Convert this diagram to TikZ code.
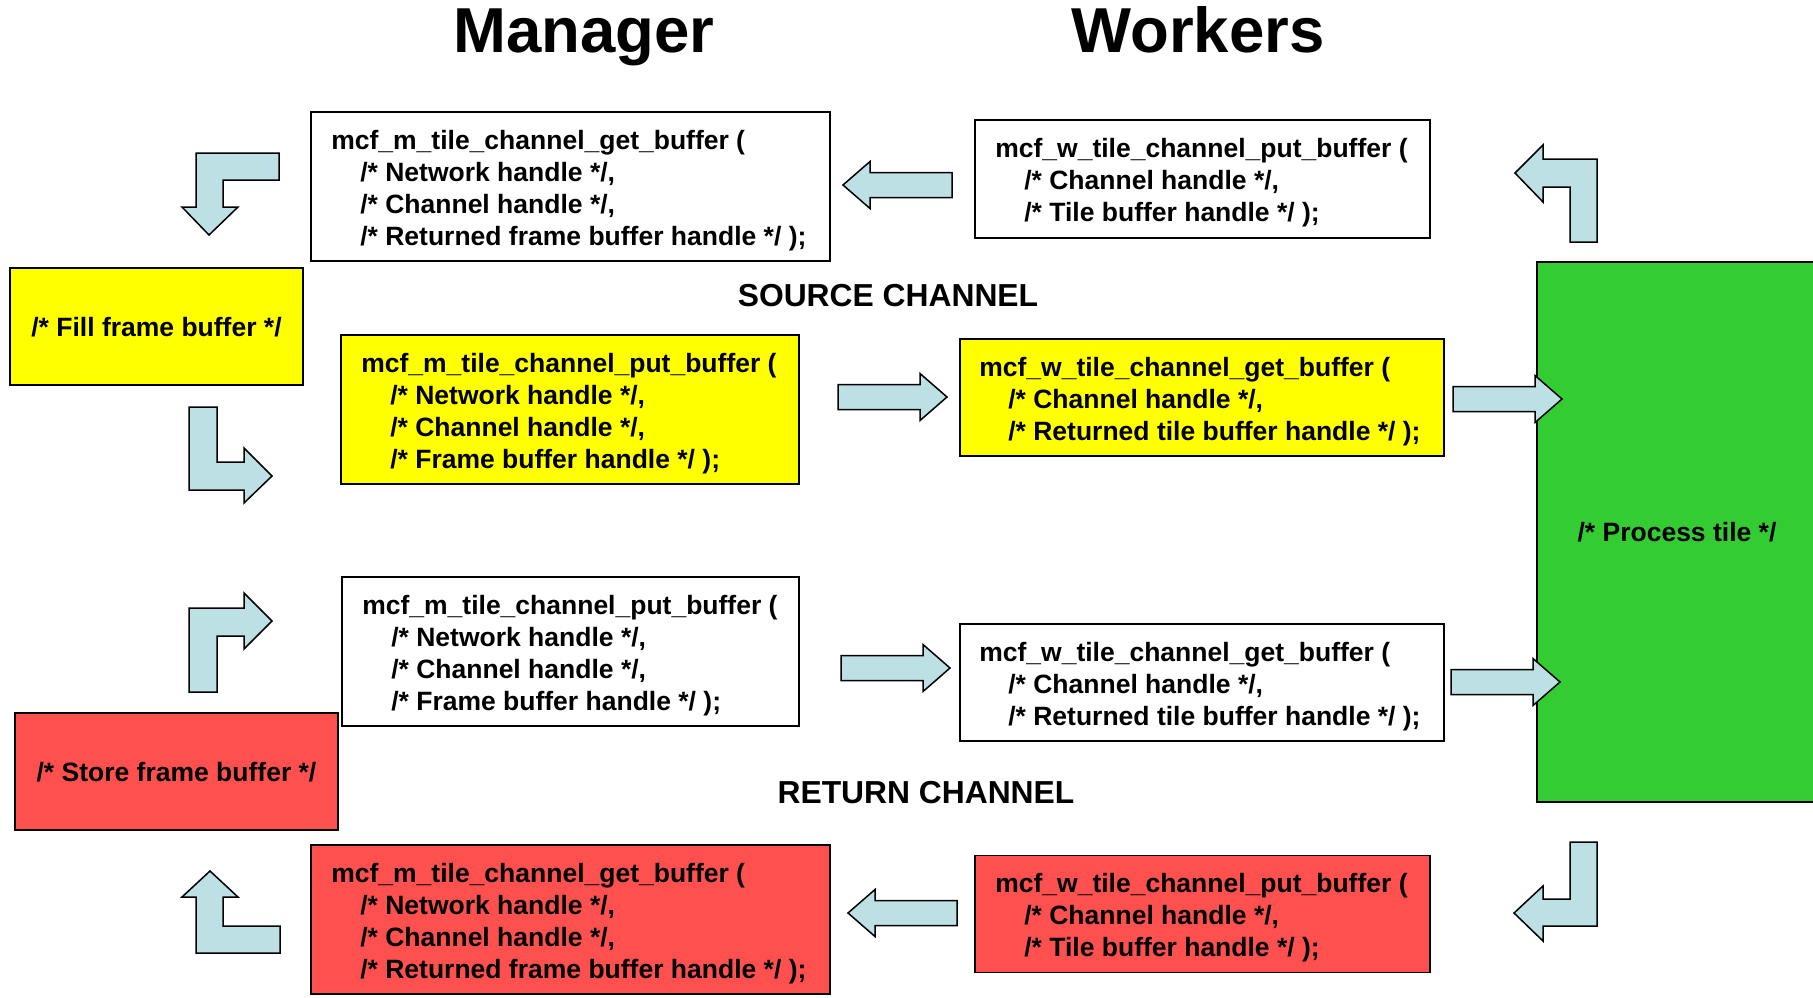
\documentclass[tikz,border=0pt]{standalone}
\usepackage{fontspec}
\setmainfont{Liberation Sans}
\definecolor{arrowfill}{RGB}{188,224,228}
\definecolor{srcyellow}{RGB}{255,255,0}
\definecolor{retred}{RGB}{255,80,80}
\definecolor{procgreen}{RGB}{51,204,51}
\newcommand{\codeindent}{\hspace*{29pt}}
\tikzset{
  framebox/.style={draw=black, line width=1.8pt, rectangle, inner sep=0pt},
  codetext/.style={anchor=west, inner sep=0pt, align=left,
    font=\fontsize{26.5}{32}\selectfont\bfseries},
  plainbox/.style={framebox, align=center, text depth=0pt,
    font=\fontsize{26.5}{32}\selectfont\bfseries},
  blockarrow/.style={draw=black, line width=1.5pt, fill=arrowfill, line join=miter},
  heading/.style={font=\fontsize{63.5}{72}\selectfont\bfseries, anchor=base},
  chanlabel/.style={font=\fontsize{31.8}{36}\selectfont\bfseries, anchor=base},
  flatarrow/.pic={
    \draw[blockarrow] (0,-12.5) -- (82,-12.5) -- (82,-23.5) -- (109,0) -- (82,23.5)
      -- (82,12.5) -- (0,12.5) -- cycle;
  }
}
\begin{document}
\begin{tikzpicture}[x=1pt, y=-1pt]
\useasboundingbox[fill=white] (0,0) rectangle (1813,997);

% column headings
\node[heading] (hmgr) at (584,52) {Manager};
\node[heading] (hwrk) at (1198,52) {Workers};

% channel labels
\node[chanlabel] (lsrc) at (888,306) {SOURCE CHANNEL};
\node[chanlabel] (lret) at (926,803) {RETURN CHANNEL};

% process tile (runs off the right edge)
\node[plainbox, fill=procgreen, minimum width=280, minimum height=540] (proc) at (1677,532) {/* Process tile */};

% manager-side action boxes
\node[plainbox, fill=srcyellow, minimum width=293, minimum height=117] (fill) at (156.5,326.5) {/* Fill frame buffer */};
\node[plainbox, fill=retred, minimum width=323, minimum height=117] (store) at (176.5,771.5) {/* Store frame buffer */};

% manager calls
\node[framebox, fill=white, minimum width=519, minimum height=149] (mgettop) at (570.5,186.5) {};
\node[codetext] (mgettop-t) at ([xshift=21pt,yshift=-4pt]mgettop.west)
  {mcf\_m\_tile\_channel\_get\_buffer (\\\codeindent/* Network handle */,\\\codeindent/* Channel handle */,\\\codeindent/* Returned frame buffer handle */ );};
\node[framebox, fill=srcyellow, minimum width=458, minimum height=149] (mputsrc) at (570,409.5) {};
\node[codetext] (mputsrc-t) at ([xshift=21pt,yshift=-4pt]mputsrc.west)
  {mcf\_m\_tile\_channel\_put\_buffer (\\\codeindent/* Network handle */,\\\codeindent/* Channel handle */,\\\codeindent/* Frame buffer handle */ );};
\node[framebox, fill=white, minimum width=457, minimum height=149] (mputret) at (570.5,651.5) {};
\node[codetext] (mputret-t) at ([xshift=21pt,yshift=-4pt]mputret.west)
  {mcf\_m\_tile\_channel\_put\_buffer (\\\codeindent/* Network handle */,\\\codeindent/* Channel handle */,\\\codeindent/* Frame buffer handle */ );};
\node[framebox, fill=retred, minimum width=519, minimum height=149] (mgetret) at (570.5,919.5) {};
\node[codetext] (mgetret-t) at ([xshift=21pt,yshift=-4pt]mgetret.west)
  {mcf\_m\_tile\_channel\_get\_buffer (\\\codeindent/* Network handle */,\\\codeindent/* Channel handle */,\\\codeindent/* Returned frame buffer handle */ );};

% worker calls
\node[framebox, fill=white, minimum width=455, minimum height=118] (wputtop) at (1202.5,179) {};
\node[codetext] (wputtop-t) at ([xshift=21pt,yshift=-4pt]wputtop.west)
  {mcf\_w\_tile\_channel\_put\_buffer (\\\codeindent/* Channel handle */,\\\codeindent/* Tile buffer handle */ );};
\node[framebox, fill=srcyellow, minimum width=484, minimum height=117] (wgetsrc) at (1202,397.5) {};
\node[codetext] (wgetsrc-t) at ([xshift=20pt,yshift=-4pt]wgetsrc.west)
  {mcf\_w\_tile\_channel\_get\_buffer (\\\codeindent/* Channel handle */,\\\codeindent/* Returned tile buffer handle */ );};
\node[framebox, fill=white, minimum width=484, minimum height=117] (wgetret) at (1202,682.5) {};
\node[codetext] (wgetret-t) at ([xshift=20pt,yshift=-4pt]wgetret.west)
  {mcf\_w\_tile\_channel\_get\_buffer (\\\codeindent/* Channel handle */,\\\codeindent/* Returned tile buffer handle */ );};
\node[framebox, fill=retred, minimum width=455, minimum height=117] (wputret) at (1202.5,914) {};
\node[codetext] (wputret-t) at ([xshift=21pt,yshift=-4pt]wputret.west)
  {mcf\_w\_tile\_channel\_put\_buffer (\\\codeindent/* Channel handle */,\\\codeindent/* Tile buffer handle */ );};

% straight block arrows between the calls
\pic[rotate=180] at (952,185) {flatarrow};
\pic at (838,397) {flatarrow};
\pic at (1453,399) {flatarrow};
\pic at (841,668) {flatarrow};
\pic at (1451,682) {flatarrow};
\pic[rotate=180] at (957,913) {flatarrow};

% bent block arrows
\draw[blockarrow] (279,153) -- (196,153) -- (196,207) -- (182,207) -- (209,235) -- (238,207)
  -- (223,207) -- (223,180) -- (279,180) -- cycle;
\draw[blockarrow] (1597,242) -- (1597,159) -- (1543,159) -- (1543,145) -- (1515,173) -- (1543,202)
  -- (1543,187) -- (1570,187) -- (1570,242) -- cycle;
\draw[blockarrow] (189,407) -- (217,407) -- (217,462) -- (244,462) -- (244,448) -- (272,476)
  -- (244,503) -- (244,490) -- (189,490) -- cycle;
\draw[blockarrow] (189,692) -- (189,608) -- (244,608) -- (244,593) -- (272,621) -- (244,649)
  -- (244,636) -- (217,636) -- (217,692) -- cycle;
\draw[blockarrow] (1570,842) -- (1597,842) -- (1597,926) -- (1543,926) -- (1543,941) -- (1514,913)
  -- (1543,886) -- (1543,899) -- (1570,899) -- cycle;
\draw[blockarrow] (280,953) -- (196,953) -- (196,897) -- (182,897) -- (210,871) -- (238,897)
  -- (223,897) -- (223,926) -- (280,926) -- cycle;
\end{tikzpicture}
\end{document}
